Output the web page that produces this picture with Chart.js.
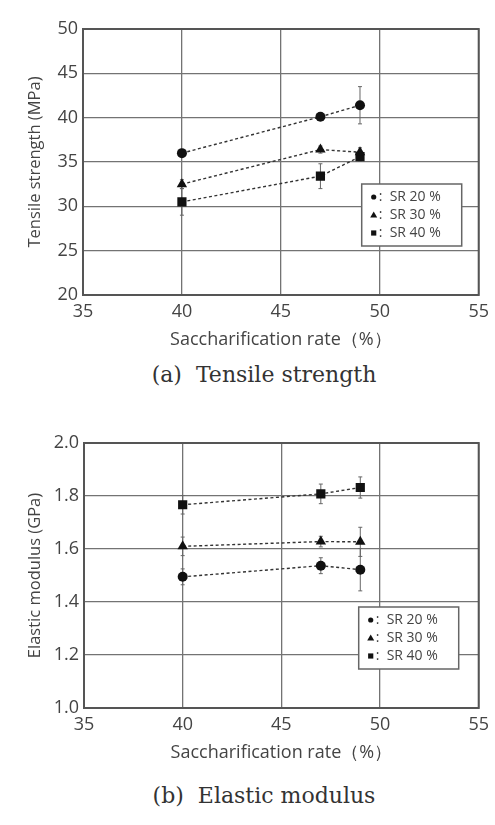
<!DOCTYPE html>
<html lang="en">
<head>
    <meta charset="UTF-8">
    <title>Saccharification rate vs strength</title>
    <script src="https://cdn.jsdelivr.net/npm/chart.js"></script>
    <style>
        body {
            margin: 0;
            background: #fff;
            width: 495px;
            height: 825px;
            position: relative;
            overflow: hidden;
        }
        canvas {
            position: absolute;
            left: 0;
        }
        .caption {
            position: absolute;
            left: 0;
            width: 528px;
            text-align: center;
            font-family: "DejaVu Serif", "Liberation Serif", serif;
            font-size: 22px;
            color: #333;
            white-space: pre;
        }
    </style>
</head>
<body>
    <canvas id="tensileChart" width="495" height="352" style="top:0px"></canvas>
    <div class="caption" style="top:362px">(a)  Tensile strength</div>
    <canvas id="modulusChart" width="495" height="355" style="top:410px"></canvas>
    <div class="caption" style="top:783px">(b)  Elastic modulus</div>

    <script>
        // Saccharification rate (%)
        const rate = [40, 47, 49];

        // Tensile strength (MPa) and error bars
        const tensile20 = [36.0, 40.1, 41.4];
        const tensile20Err = [0.3, 0.3, 2.1];
        const tensile30 = [32.5, 36.4, 36.1];
        const tensile30Err = [0.5, 0.4, 0.5];
        const tensile40 = [30.5, 33.4, 35.6];
        const tensile40Err = [1.5, 1.4, 0.5];

        // Elastic modulus (GPa) and error bars
        const modulus20 = [1.495, 1.537, 1.522];
        const modulus20Err = [0.03, 0.03, 0.08];
        const modulus30 = [1.61, 1.628, 1.627];
        const modulus30Err = [0.035, 0.02, 0.055];
        const modulus40 = [1.767, 1.808, 1.832];
        const modulus40Err = [0.035, 0.037, 0.04];

        const seriesLabels = ['SR 20 %', 'SR 30 %', 'SR 40 %'];
        const markers = ['circle', 'triangle', 'rect'];
        const markerSizes = [5, 6, 6.5];

        const textColor = '#444';
        const gridColor = '#737373';
        const fontFamily = '"Open Sans", sans-serif';

        // error bars, drawn under the markers
        const errorBars = {
            id: 'errorBars',
            beforeDatasetsDraw(chart) {
                const ctx = chart.ctx;
                const xs = chart.scales.x, ys = chart.scales.y;
                ctx.save();
                ctx.strokeStyle = '#666';
                ctx.lineWidth = 1;
                chart.data.datasets.forEach(ds => {
                    ds.data.forEach((p, i) => {
                        const e = ds.err[i];
                        const x = xs.getPixelForValue(p.x);
                        const y1 = ys.getPixelForValue(p.y + e);
                        const y2 = ys.getPixelForValue(p.y - e);
                        ctx.beginPath();
                        ctx.moveTo(x, y1); ctx.lineTo(x, y2);
                        ctx.moveTo(x - 2, y1); ctx.lineTo(x + 2, y1);
                        ctx.moveTo(x - 2, y2); ctx.lineTo(x + 2, y2);
                        ctx.stroke();
                    });
                });
                ctx.restore();
            }
        };

        // plot frame + boxed legend inside the plot
        const frameLegend = {
            id: 'frameLegend',
            afterDraw(chart, args, opts) {
                const ctx = chart.ctx;
                const a = chart.chartArea;
                ctx.save();
                ctx.strokeStyle = '#555';
                ctx.lineWidth = 2;
                ctx.strokeRect(a.left, a.top, a.right - a.left, a.bottom - a.top);

                const bx = a.right - opts.right, by = a.top + opts.top;
                const bw = 100, bh = 62;
                ctx.fillStyle = '#fff';
                ctx.fillRect(bx, by, bw, bh);
                ctx.strokeStyle = '#666';
                ctx.lineWidth = 1.5;
                ctx.strokeRect(bx, by, bw, bh);

                ctx.font = '14px ' + fontFamily;
                ctx.textBaseline = 'middle';
                seriesLabels.forEach((lab, i) => {
                    const cy = by + 13 + i * 18;
                    const cx = bx + 12;
                    ctx.fillStyle = '#111';
                    ctx.beginPath();
                    if (markers[i] === 'circle') {
                        ctx.arc(cx, cy, 2.6, 0, Math.PI * 2);
                    } else if (markers[i] === 'triangle') {
                        ctx.moveTo(cx, cy - 3.5);
                        ctx.lineTo(cx + 3.5, cy + 2.5);
                        ctx.lineTo(cx - 3.5, cy + 2.5);
                        ctx.closePath();
                    } else {
                        ctx.rect(cx - 2.6, cy - 2.6, 5.2, 5.2);
                    }
                    ctx.fill();
                    ctx.fillStyle = textColor;
                    ctx.fillText(':  ' + lab, cx + 5, cy);
                });
                ctx.restore();
            }
        };

        function makeChart(id, values, errs, yTitle, yMin, yMax, yStep, decimals, yWidth, padTop, legendPos) {
            const datasets = values.map((vals, i) => ({
                label: seriesLabels[i],
                data: rate.map((r, j) => ({ x: r, y: vals[j] })),
                err: errs[i],
                showLine: true,
                borderColor: '#333',
                borderWidth: 1.4,
                borderDash: [3, 2.5],
                pointStyle: markers[i],
                pointRadius: markerSizes[i],
                pointBackgroundColor: '#111',
                pointBorderColor: '#111',
                pointBorderWidth: 0
            }));

            return new Chart(document.getElementById(id).getContext('2d'), {
                type: 'scatter',
                data: { datasets: datasets },
                plugins: [errorBars, frameLegend],
                options: {
                    responsive: false,
                    animation: false,
                    layout: { padding: { top: padTop, right: 15, left: 0, bottom: 0 } },
                    plugins: {
                        legend: { display: false },
                        tooltip: { enabled: false },
                        frameLegend: legendPos
                    },
                    scales: {
                        x: {
                            min: 35,
                            max: 55,
                            afterFit: s => { s.height = 57; },
                            grid: { color: gridColor, lineWidth: 1.3, drawTicks: false },
                            border: { display: false },
                            ticks: {
                                stepSize: 5,
                                padding: 6,
                                color: textColor,
                                font: { family: fontFamily, size: 18 }
                            },
                            title: {
                                display: true,
                                text: 'Saccharification rate（%）',
                                color: textColor,
                                padding: { top: 0, bottom: 1 },
                                font: { family: fontFamily, size: 18 }
                            }
                        },
                        y: {
                            min: yMin,
                            max: yMax,
                            afterFit: s => { s.width = yWidth; },
                            grid: { color: gridColor, lineWidth: 1.3, drawTicks: false },
                            border: { display: false },
                            ticks: {
                                stepSize: yStep,
                                padding: 5,
                                color: textColor,
                                font: { family: fontFamily, size: 18 },
                                callback: v => v.toFixed(decimals)
                            },
                            title: {
                                display: true,
                                text: yTitle,
                                color: textColor,
                                padding: { top: 25, bottom: 0 },
                                font: { family: fontFamily, size: 16.5 }
                            }
                        }
                    }
                }
            });
        }

        makeChart('tensileChart',
            [tensile20, tensile30, tensile40],
            [tensile20Err, tensile30Err, tensile40Err],
            'Tensile strength (MPa)', 20, 50, 5, 0, 83, 29,
            { right: 117, top: 155 });

        makeChart('modulusChart',
            [modulus20, modulus30, modulus40],
            [modulus20Err, modulus30Err, modulus40Err],
            'Elastic modulus (GPa)', 1.0, 2.0, 0.2, 1, 84, 33,
            { right: 120, top: 164 });
    </script>
</body>
</html>
